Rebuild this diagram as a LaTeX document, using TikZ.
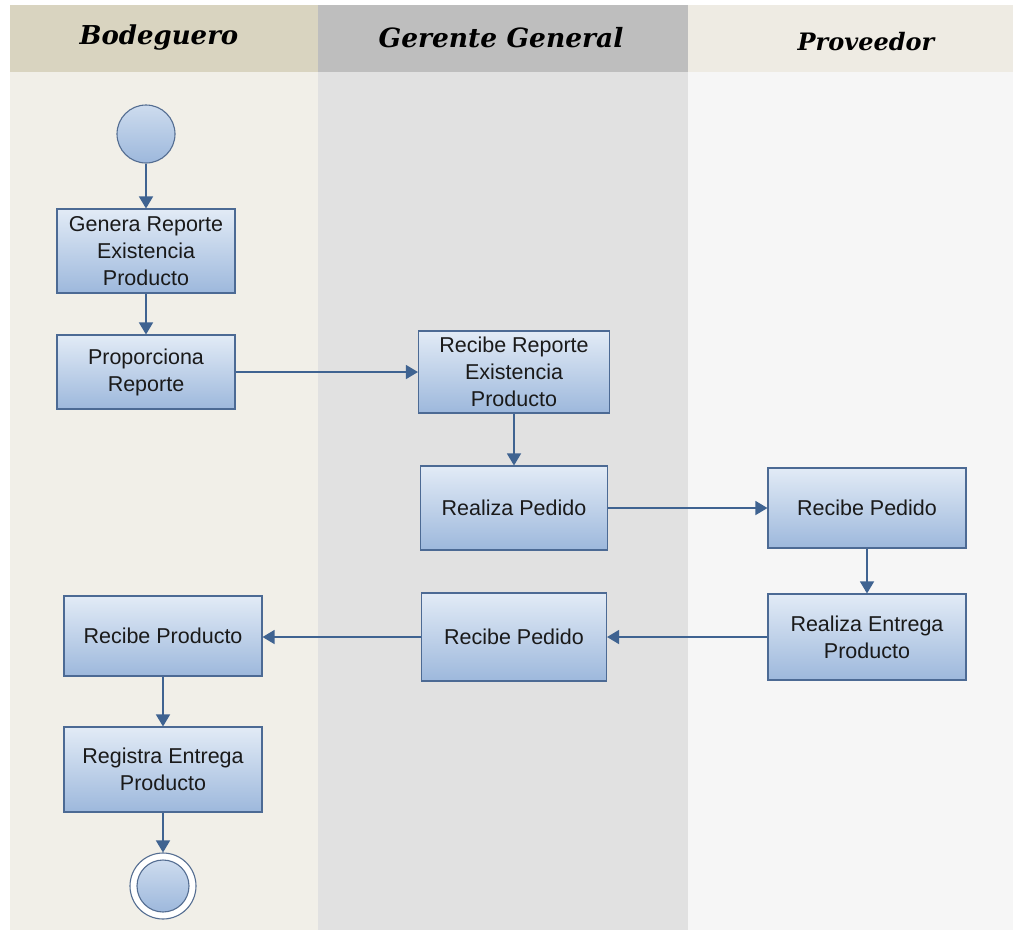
\documentclass[tikz,border=0pt]{standalone}
\usepackage{fontspec}
\setmainfont{Liberation Sans}
\newfontfamily\headfont{DejaVu Serif}
\usetikzlibrary{arrows.meta}
\definecolor{bodHead}{HTML}{D9D4C0}
\definecolor{bodBody}{HTML}{F1EFE8}
\definecolor{gerHead}{HTML}{BEBEBE}
\definecolor{gerBody}{HTML}{E1E1E1}
\definecolor{provHead}{HTML}{EEEBE3}
\definecolor{provBody}{HTML}{F6F6F6}
\definecolor{boxTop}{HTML}{E2EBF6}
\definecolor{boxBot}{HTML}{9DB8DC}
\definecolor{boxLine}{HTML}{4C6A94}
\definecolor{flow}{HTML}{3F6391}
\definecolor{txt}{HTML}{1A1A1A}
\tikzset{
  x=1pt, y=-1pt,
  activity/.style={draw=boxLine, line width=1.1pt, top color=boxTop, bottom color=boxBot,
    minimum width=#1, align=center, text=txt, font=\fontsize{21.5}{27}\selectfont, inner sep=0pt},
  initial/.style={circle, draw=boxLine!85!gray, line width=1.1pt, top color=boxTop!70!boxBot,
    bottom color=boxBot, minimum size=58pt, inner sep=0pt},
  final/.style={circle, draw=boxLine!85!gray, line width=1.1pt, fill=white, minimum size=66pt,
    inner sep=0pt},
  finalcore/.style={circle, draw=boxLine!85!gray, line width=1.1pt, top color=boxTop!70!boxBot,
    bottom color=boxBot, minimum size=52pt, inner sep=0pt},
  flowline/.style={draw=flow, line width=1.4pt, -{Triangle[width=14pt,length=12pt]}},
  lanetitle/.style={font=\headfont\bfseries\itshape\fontsize{#1}{#1}\selectfont, text=black}
}
\begin{document}
\begin{tikzpicture}
\useasboundingbox (0,0) rectangle (1013,930);
\fill[white] (0,0) rectangle (1013,930);
% swimlanes
\fill[bodBody] (10,72) rectangle (318,930);
\fill[gerBody] (318,72) rectangle (688,930);
\fill[provBody] (688,72) rectangle (1013,930);
\fill[bodHead] (10,5) rectangle (318,72);
\fill[gerHead] (318,5) rectangle (688,72);
\fill[provHead] (688,5) rectangle (1013,72);
\node[lanetitle=26] (hBod) at (159,38) {Bodeguero};
\node[lanetitle=26.5] (hGer) at (501,38) {Gerente General};
\node[lanetitle=24] (hProv) at (866,42) {Proveedor};

% activities
\node[initial] (start) at (146,134) {};
\node[activity=178pt, minimum height=84pt] (genera) at (146,251) {Genera Reporte\\Existencia\\Producto};
\node[activity=178pt, minimum height=74pt] (propor) at (146,372) {Proporciona\\Reporte};
\node[activity=191pt, minimum height=82pt] (recRep) at (514,372) {Recibe Reporte\\Existencia\\Producto};
\node[activity=187pt, minimum height=84pt] (realPed) at (514,508) {Realiza Pedido};
\node[activity=198pt, minimum height=80pt] (recPedP) at (867,508) {Recibe Pedido};
\node[activity=198pt, minimum height=86pt] (entrega) at (867,637) {Realiza Entrega\\Producto};
\node[activity=185pt, minimum height=88pt] (recPedG) at (514,637) {Recibe Pedido};
\node[activity=198pt, minimum height=80pt] (recProd) at (163,636) {Recibe Producto};
\node[activity=198pt, minimum height=85pt] (registra) at (163,769.5) {Registra Entrega\\Producto};
\node[final] (fin) at (163,886) {};
\node[finalcore] (finCore) at (fin.center) {};

% control flow
\draw[flowline] (start) -- (genera);
\draw[flowline] (genera) -- (propor);
\draw[flowline] (propor) -- (recRep);
\draw[flowline] (recRep) -- (realPed);
\draw[flowline] (realPed) -- (recPedP);
\draw[flowline] (recPedP) -- (entrega);
\draw[flowline] (entrega) -- (recPedG);
\draw[flowline] (recPedG.west) -- (recProd.east |- recPedG.west);
\draw[flowline] (recProd) -- (registra);
\draw[flowline] (registra) -- (fin);
\end{tikzpicture}
\end{document}
